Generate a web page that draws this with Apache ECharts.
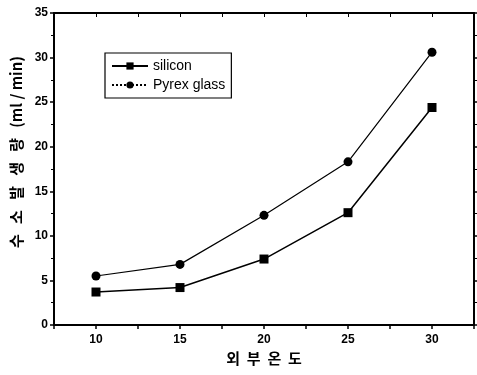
<!DOCTYPE html>
<html>
<head>
<meta charset="utf-8">
<script src="https://cdn.jsdelivr.net/npm/echarts@6/dist/echarts.min.js"></script>
<style>
  html, body { margin: 0; padding: 0; background: #fff; }
  #chart { width: 477px; height: 375px; }
</style>
</head>
<body>
<div id="chart"></div>
<script>
// 외부 온도 (x) vs 수소 발생량
const temps = [10, 15, 20, 25, 30];
const silicon = [3.7, 4.2, 7.4, 12.6, 24.4];
const pyrex = [5.5, 6.8, 12.3, 18.3, 30.6];
const seriesNames = ['silicon', 'Pyrex glass'];

const myChart = echarts.init(document.getElementById('chart'));
const font = 'Liberation Sans, Arial, sans-serif';
const kfont = 'Noto Sans CJK KR, sans-serif';

const axisBase = {
  axisLine: { show: true, onZero: false, lineStyle: { color: '#000', width: 2 } },
  axisTick: { show: true, length: 4, lineStyle: { color: '#000', width: 1.5 } },
  splitLine: { show: false },
  axisLabel: { color: '#000', fontFamily: font, fontWeight: 'bold', fontSize: 12 }
};

myChart.setOption({
  animation: false,
  grid: { left: 54, right: 2, top: 13, bottom: 50 },
  legend: {
    left: 105, top: 53, width: 125, height: 48,
    orient: 'vertical',
    padding: [6, 6, 6, 6],
    itemGap: 5,
    itemWidth: 36, itemHeight: 9,
    borderColor: '#000', borderWidth: 1.2,
    textStyle: { color: '#000', fontFamily: font, fontSize: 14 },
    data: [
      { name: seriesNames[0] },
      { name: seriesNames[1], lineStyle: { type: 'dotted' } }
    ]
  },
  xAxis: [
    Object.assign({}, axisBase, {
      type: 'value', min: 7.5, max: 32.5, interval: 2.5,
      axisLabel: Object.assign({}, axisBase.axisLabel, {
        margin: 9,
        formatter: v => (v % 5 === 0 && v >= 10 && v <= 30) ? String(v) : ''
      }),
      name: '외  부  온  도', nameLocation: 'middle', nameGap: 26,
      nameTextStyle: { color: '#000', fontFamily: kfont, fontWeight: 'bold', fontSize: 15 }
    }),
    Object.assign({}, axisBase, {
      type: 'value', min: 7.5, max: 32.5, interval: 2.5, position: 'top',
      axisTick: { show: true, inside: true, length: 4, lineStyle: { color: '#000' } },
      axisLabel: { show: false }
    })
  ],
  yAxis: [
    Object.assign({}, axisBase, {
      type: 'value', min: 0, max: 35, interval: 5,
      minorTick: { show: true, splitNumber: 2, length: 3, lineStyle: { color: '#000' } },
      axisLabel: Object.assign({}, axisBase.axisLabel, { margin: 6 }),
      name: '          수   소   발   생   량   (ml / min)', nameLocation: 'middle', nameGap: 27, nameRotate: 90,
      nameTextStyle: { color: '#000', fontFamily: kfont, fontWeight: 'bold', fontSize: 15, whiteSpace: 'pre' }
    }),
    Object.assign({}, axisBase, {
      type: 'value', min: 0, max: 35, interval: 5, position: 'right',
      minorTick: { show: true, splitNumber: 2, length: 3, lineStyle: { color: '#000' } },
      axisLabel: { show: false }
    })
  ],
  series: [
    {
      name: seriesNames[0], type: 'line',
      data: temps.map((t, i) => [t, silicon[i]]),
      symbol: 'rect', symbolSize: 9,
      lineStyle: { color: '#000', width: 1.5 },
      itemStyle: { color: '#000' }
    },
    {
      name: seriesNames[1], type: 'line',
      data: temps.map((t, i) => [t, pyrex[i]]),
      symbol: 'circle', symbolSize: 9,
      lineStyle: { color: '#000', width: 1.2 },
      itemStyle: { color: '#000' }
    }
  ]
});
</script>
</body>
</html>
